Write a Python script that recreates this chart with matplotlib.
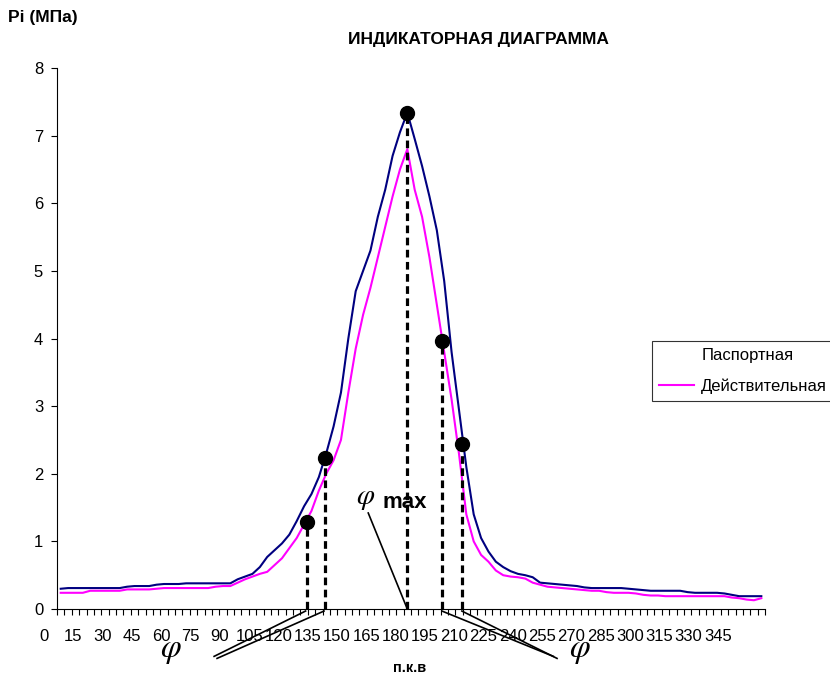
import matplotlib.pyplot as plt
import matplotlib.transforms as mtransforms
from matplotlib.lines import Line2D
import numpy as np

plt.rcParams['font.family'] = ['Liberation Sans', 'DejaVu Sans']

# Давление по паспорту и действительное (МПа), 96 точек через 3.75 град п.к.в
p_passport = [0.30, 0.31, 0.31, 0.31, 0.31, 0.31, 0.31, 0.31, 0.31, 0.33,
              0.34, 0.34, 0.34, 0.36, 0.37, 0.37, 0.37, 0.38, 0.38, 0.38,
              0.38, 0.38, 0.38, 0.38, 0.44, 0.48, 0.52, 0.62, 0.77, 0.87,
              0.97, 1.10, 1.30, 1.52, 1.70, 1.95, 2.30, 2.70, 3.20, 4.00,
              4.70, 5.00, 5.30, 5.80, 6.20, 6.70, 7.05, 7.34, 6.95, 6.55,
              6.10, 5.60, 4.85, 3.80, 2.95, 2.10, 1.40, 1.05, 0.85, 0.70,
              0.62, 0.56, 0.52, 0.50, 0.47, 0.39, 0.38, 0.37, 0.36, 0.35,
              0.34, 0.32, 0.31, 0.31, 0.31, 0.31, 0.31, 0.30, 0.29, 0.28,
              0.27, 0.27, 0.27, 0.27, 0.27, 0.25, 0.24, 0.24, 0.24, 0.24,
              0.23, 0.21, 0.19, 0.19, 0.19, 0.19]
p_real = [0.24, 0.24, 0.24, 0.24, 0.27, 0.27, 0.27, 0.27, 0.27, 0.29,
          0.29, 0.29, 0.29, 0.30, 0.31, 0.31, 0.31, 0.31, 0.31, 0.31,
          0.31, 0.33, 0.34, 0.34, 0.39, 0.44, 0.48, 0.52, 0.55, 0.65,
          0.75, 0.90, 1.05, 1.25, 1.45, 1.75, 2.00, 2.20, 2.50, 3.20,
          3.85, 4.35, 4.75, 5.20, 5.65, 6.10, 6.50, 6.80, 6.20, 5.80,
          5.20, 4.50, 3.80, 3.10, 2.30, 1.40, 1.00, 0.80, 0.70, 0.57,
          0.50, 0.48, 0.47, 0.45, 0.39, 0.36, 0.33, 0.32, 0.31, 0.30,
          0.29, 0.28, 0.27, 0.27, 0.25, 0.24, 0.24, 0.24, 0.23, 0.21,
          0.20, 0.20, 0.19, 0.19, 0.19, 0.19, 0.19, 0.19, 0.19, 0.19,
          0.19, 0.17, 0.16, 0.14, 0.13, 0.16]

angle_labels = ['0', '15', '30', '45', '60', '75', '90', '105', '120', '135',
                '150', '165', '180', '195', '210', '225', '240', '255', '270',
                '285', '300', '315', '330', '345']

# характерные точки (индекс категории, давление)
mark_x = [33.4, 35.8, 47.0, 51.7, 54.4]
mark_p = [1.29, 2.23, 7.34, 3.97, 2.44]

x = np.arange(len(p_passport))

fig = plt.figure(figsize=(8.3, 6.86), dpi=100)
ax = fig.add_axes([0.0687, 0.1122, 0.8530, 0.7887])

ax.plot(x, p_passport, color='#000080', lw=1.5)
ax.plot(x, p_real, color='#FF00FF', lw=1.5)

# вертикальные пунктиры и точки
for mx, mp in zip(mark_x, mark_p):
    ax.plot([mx, mx], [0, mp], color='black', lw=2.3,
            linestyle=(0, (2.4, 1.4)), solid_capstyle='butt', zorder=4)
ax.plot(mark_x, mark_p, 'o', color='black', ms=10, zorder=5)

ax.set_xlim(-0.5, 95.5)
ax.set_ylim(0, 8)
ax.spines['top'].set_visible(False)
ax.spines['right'].set_visible(False)
ax.set_yticks(range(9))
ax.tick_params(axis='y', direction='out', length=4, width=0.8, pad=6,
               labelsize=12)
ax.set_xticks(np.arange(-0.5, 96, 1.0))
ax.set_xticklabels([])
ax.tick_params(axis='x', direction='out', length=4, width=0.8)

# подписи оси X
trans = mtransforms.blended_transform_factory(ax.transData, ax.transAxes)
for k, lab in enumerate(angle_labels):
    ax.text(-2.26 + 3.973 * k, -0.05, lab, transform=trans, ha='center',
            va='center', fontsize=12)

# выноски фи
ax.plot([33.2, 20.8], [-0.03, -0.70], color='black', lw=1.2, clip_on=False)
ax.plot([35.7, 21.2], [-0.03, -0.73], color='black', lw=1.2, clip_on=False)
ax.plot([51.7, 66.8], [-0.03, -0.70], color='black', lw=1.2, clip_on=False)
ax.plot([54.4, 67.3], [-0.03, -0.73], color='black', lw=1.2, clip_on=False)
ax.plot([47.0, 41.7], [0, 1.42], color='black', lw=1.2)

ax.text(14.9, -0.71, 'φ', fontsize=24, family='STIXGeneral',
        style='italic', ha='center', va='baseline', clip_on=False)
ax.text(70.4, -0.71, 'φ', fontsize=24, family='STIXGeneral',
        style='italic', ha='center', va='baseline', clip_on=False)
ax.text(41.3, 1.56, 'φ', fontsize=21, family='STIXGeneral',
        style='italic', ha='center', va='baseline')
ax.text(43.7, 1.50, 'max', fontsize=16, fontweight='bold', ha='left',
        va='baseline')

fig.text(0.0096, 0.974, 'Pi (МПа)', fontsize=12.5, fontweight='bold',
         ha='left', va='center')
fig.text(0.577, 0.942, 'ИНДИКАТОРНАЯ ДИАГРАММА', fontsize=12.5,
         fontweight='bold', ha='center', va='center')
fig.text(0.493, 0.026, 'п.к.в', fontsize=10.5, fontweight='bold',
         ha='center', va='center')

handles = [Line2D([], [], color='none', lw=1.5),
           Line2D([], [], color='#FF00FF', lw=1.5)]
leg = fig.legend(handles, ['Паспортная', 'Действительная'],
                 loc='upper left', bbox_to_anchor=(0.7855, 0.503),
                 fontsize=12, frameon=True, fancybox=False,
                 edgecolor='black', handlelength=2.1, handletextpad=0.45,
                 borderpad=0.4, labelspacing=0.95, borderaxespad=0)
leg.get_frame().set_linewidth(0.8)

fig.savefig('out.png', dpi=100)
